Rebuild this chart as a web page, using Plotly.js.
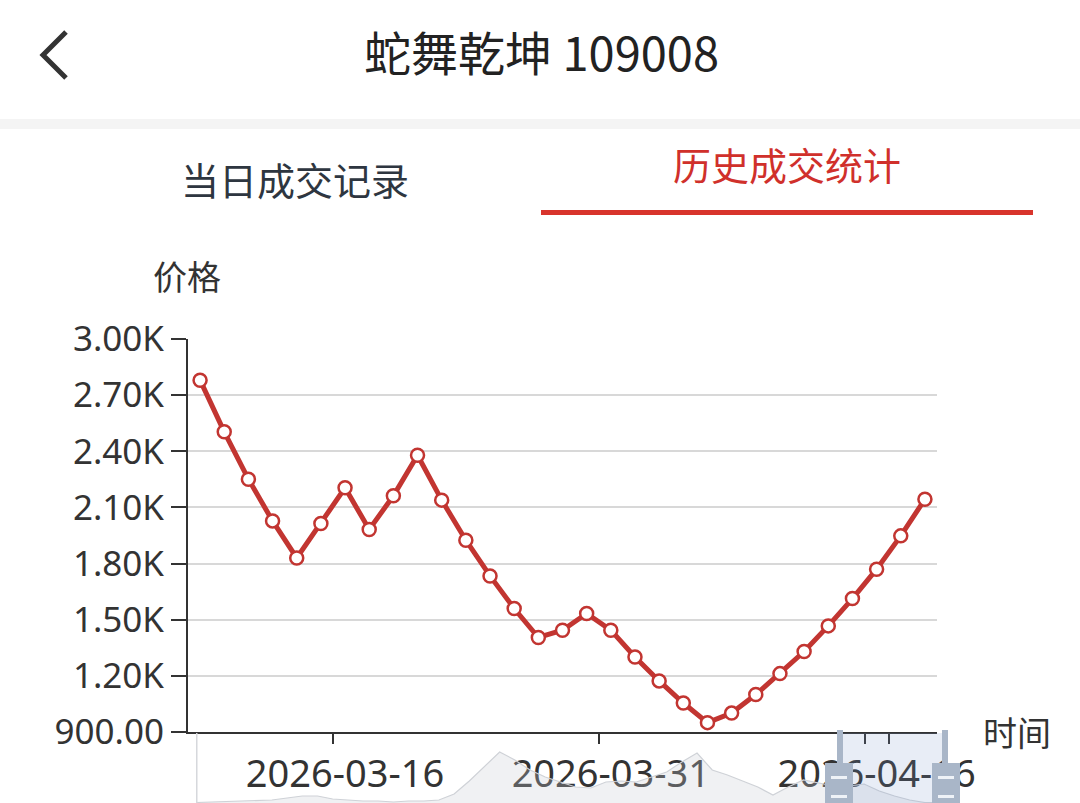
<!DOCTYPE html>
<html>
<head>
<meta charset="utf-8">
<script src="https://cdn.plot.ly/plotly-3.0.1.min.js"></script>
<style>
html,body{margin:0;padding:0;background:#fff;overflow:hidden;}
#chart{width:1080px;height:803px;}
</style>
</head>
<body>
<div id="chart"></div>
<script>
// ---- data ----
const dates = [
  '2026-03-08','2026-03-09','2026-03-11','2026-03-12','2026-03-13','2026-03-15',
  '2026-03-16','2026-03-17','2026-03-19','2026-03-20','2026-03-22','2026-03-23',
  '2026-03-24','2026-03-26','2026-03-27','2026-03-28','2026-03-30','2026-03-31',
  '2026-04-01','2026-04-03','2026-04-04','2026-04-06','2026-04-07','2026-04-08',
  '2026-04-10','2026-04-11','2026-04-13','2026-04-14','2026-04-16','2026-04-17',
  '2026-04-18'
];
const prices = [
  2780, 2504, 2251, 2028, 1830, 2014, 2205, 1982, 2162, 2379, 2139, 1925,
  1734, 1560, 1405, 1444, 1533, 1444, 1301, 1173, 1055, 950, 1001, 1100,
  1212, 1330, 1467, 1613, 1770, 1948, 2144
];
const xTickDates = ['2026-03-16', '2026-03-31', '2026-04-16'];
const yTickValues = [900, 1200, 1500, 1800, 2100, 2400, 2700, 3000];
const yTickLabels = ['900.00', '1.20K', '1.50K', '1.80K', '2.10K', '2.40K', '2.70K', '3.00K'];
// overview (data-zoom slider) series, full history
const overviewValues = [
  20, 40, 40, 80, 80, 120, 200, 280, 280, 160, 120, 80, 80, 40, 80, 80, 120,
  360, 880, 1480, 2040, 1720, 1320, 1040, 840, 640, 600, 840, 880, 840, 1040,
  1240, 1640, 2000, 1320, 1120, 880, 640, 320, 640, 920, 800, 680, 680, 760,
  480, 280, 120, 20, 20
];
const overviewIndex = overviewValues.map((v, i) => i);

const titleText = '蛇舞乾坤 109008';
const tabLeft = '当日成交记录';
const tabRight = '历史成交统计';
const yName = '价格';
const xName = '时间';

// ---- helpers (pixel -> paper) ----
const W = 1080, H = 803;
const px = x => x / W;
const py = y => 1 - y / H;
const RED = '#c23531';
const FONT = 'Noto Sans, Noto Sans CJK SC, sans-serif';
const CJK = 'Noto Sans CJK SC, sans-serif';

const traces = [
  {
    x: overviewIndex, y: overviewValues, xaxis: 'x2', yaxis: 'y2',
    type: 'scatter', mode: 'lines', fill: 'tozeroy',
    fillcolor: 'rgba(200,205,212,0.28)',
    line: {color: '#cfd2d7', width: 1.2},
    hoverinfo: 'skip', showlegend: false
  },
  {
    x: dates, y: prices, type: 'scatter', mode: 'lines+markers',
    line: {color: RED, width: 5},
    marker: {symbol: 'circle', size: 13, color: '#ffffff', line: {color: RED, width: 2.5}},
    cliponaxis: false, showlegend: false
  }
];

function rect(x0, y0, x1, y1, fill, extra) {
  return Object.assign({type: 'rect', xref: 'paper', yref: 'paper',
    x0: px(x0), x1: px(x1), y0: py(y1), y1: py(y0),
    fillcolor: fill, line: {width: 0}, layer: 'above'}, extra || {});
}

const shapes = [
  // header separator band
  rect(0, 119, 1080, 129, '#f4f4f4'),
  // active tab underline
  rect(541, 210, 1033, 215, '#d8342c'),
  // back chevron
  {type: 'path', xref: 'paper', yref: 'paper',
   path: `M ${px(66)} ${py(32)} L ${px(43)} ${py(55)} L ${px(66)} ${py(78)}`,
   line: {color: '#333333', width: 5}, layer: 'above'},
  // slider left border
  rect(196, 733, 197.5, 803, '#d6d8dc'),
  // slider selected window
  rect(840, 733, 945, 803, 'rgba(120,150,200,0.17)'),
  // handle bars
  rect(837, 730, 843, 765, '#a9b6c8'),
  rect(942, 730, 948, 765, '#a9b6c8'),
  // handle blocks
  rect(825, 763, 853, 803, '#a9b6c8'),
  rect(932, 763, 960, 803, '#a9b6c8'),
  // handle dashes
  rect(831, 776, 847, 779, '#eef2f7'),
  rect(831, 795, 847, 798, '#eef2f7'),
  rect(938, 776, 954, 779, '#eef2f7'),
  rect(938, 795, 954, 798, '#eef2f7')
];

const annotations = [
  {text: titleText, x: px(541), y: py(50), font: {family: CJK, size: 47, color: '#222222'}},
  {text: tabLeft, x: px(295), y: py(178), font: {family: CJK, size: 38, color: '#2e3640'}},
  {text: tabRight, x: px(787), y: py(163), font: {family: CJK, size: 38, color: '#d0302b'}},
  {text: yName, x: px(187), y: py(275), font: {family: CJK, size: 34, color: '#333333'}},
  {text: xName, x: px(1017), y: py(731), font: {family: CJK, size: 34, color: '#333333'}}
].map(a => Object.assign({xref: 'paper', yref: 'paper', showarrow: false,
  xanchor: 'center', yanchor: 'middle'}, a));

const layout = {
  width: W, height: H,
  margin: {l: 0, r: 0, t: 0, b: 0, pad: 0},
  paper_bgcolor: '#ffffff', plot_bgcolor: 'rgba(0,0,0,0)',
  showlegend: false,
  xaxis: {
    domain: [px(188), px(937)], anchor: 'y',
    type: 'category', categoryorder: 'array', categoryarray: dates,
    range: [-0.5, dates.length - 0.5],
    tickmode: 'array', tickvals: xTickDates, ticktext: xTickDates,
    tickson: 'boundaries', tickangle: 0, automargin: false,
    showline: true, linecolor: '#333333', linewidth: 2,
    ticks: 'outside', ticklen: 10, tickwidth: 2, tickcolor: '#333333',
    showgrid: false, zeroline: false,
    tickfont: {family: FONT, size: 38, color: '#333333'},
    ticklabelstandoff: 7, fixedrange: true
  },
  yaxis: {
    domain: [py(732), py(339)], anchor: 'x',
    range: [900, 3000],
    tickmode: 'array', tickvals: yTickValues, ticktext: yTickLabels,
    showline: true, linecolor: '#333333', linewidth: 2,
    ticks: 'outside', ticklen: 15, tickwidth: 2, tickcolor: '#333333',
    showgrid: true, gridcolor: '#d8d8d8', gridwidth: 2,
    zeroline: false, automargin: false,
    tickfont: {family: FONT, size: 35, color: '#333333'},
    ticklabelstandoff: 0, fixedrange: true
  },
  xaxis2: {domain: [px(196), px(940)], anchor: 'y2', range: [0, overviewValues.length - 1],
    visible: false, fixedrange: true},
  yaxis2: {domain: [0, py(733)], anchor: 'x2', range: [0, 2800], visible: false, fixedrange: true},
  shapes: shapes,
  annotations: annotations
};

Plotly.newPlot('chart', traces, layout, {displayModeBar: false, staticPlot: true});
</script>
</body>
</html>
